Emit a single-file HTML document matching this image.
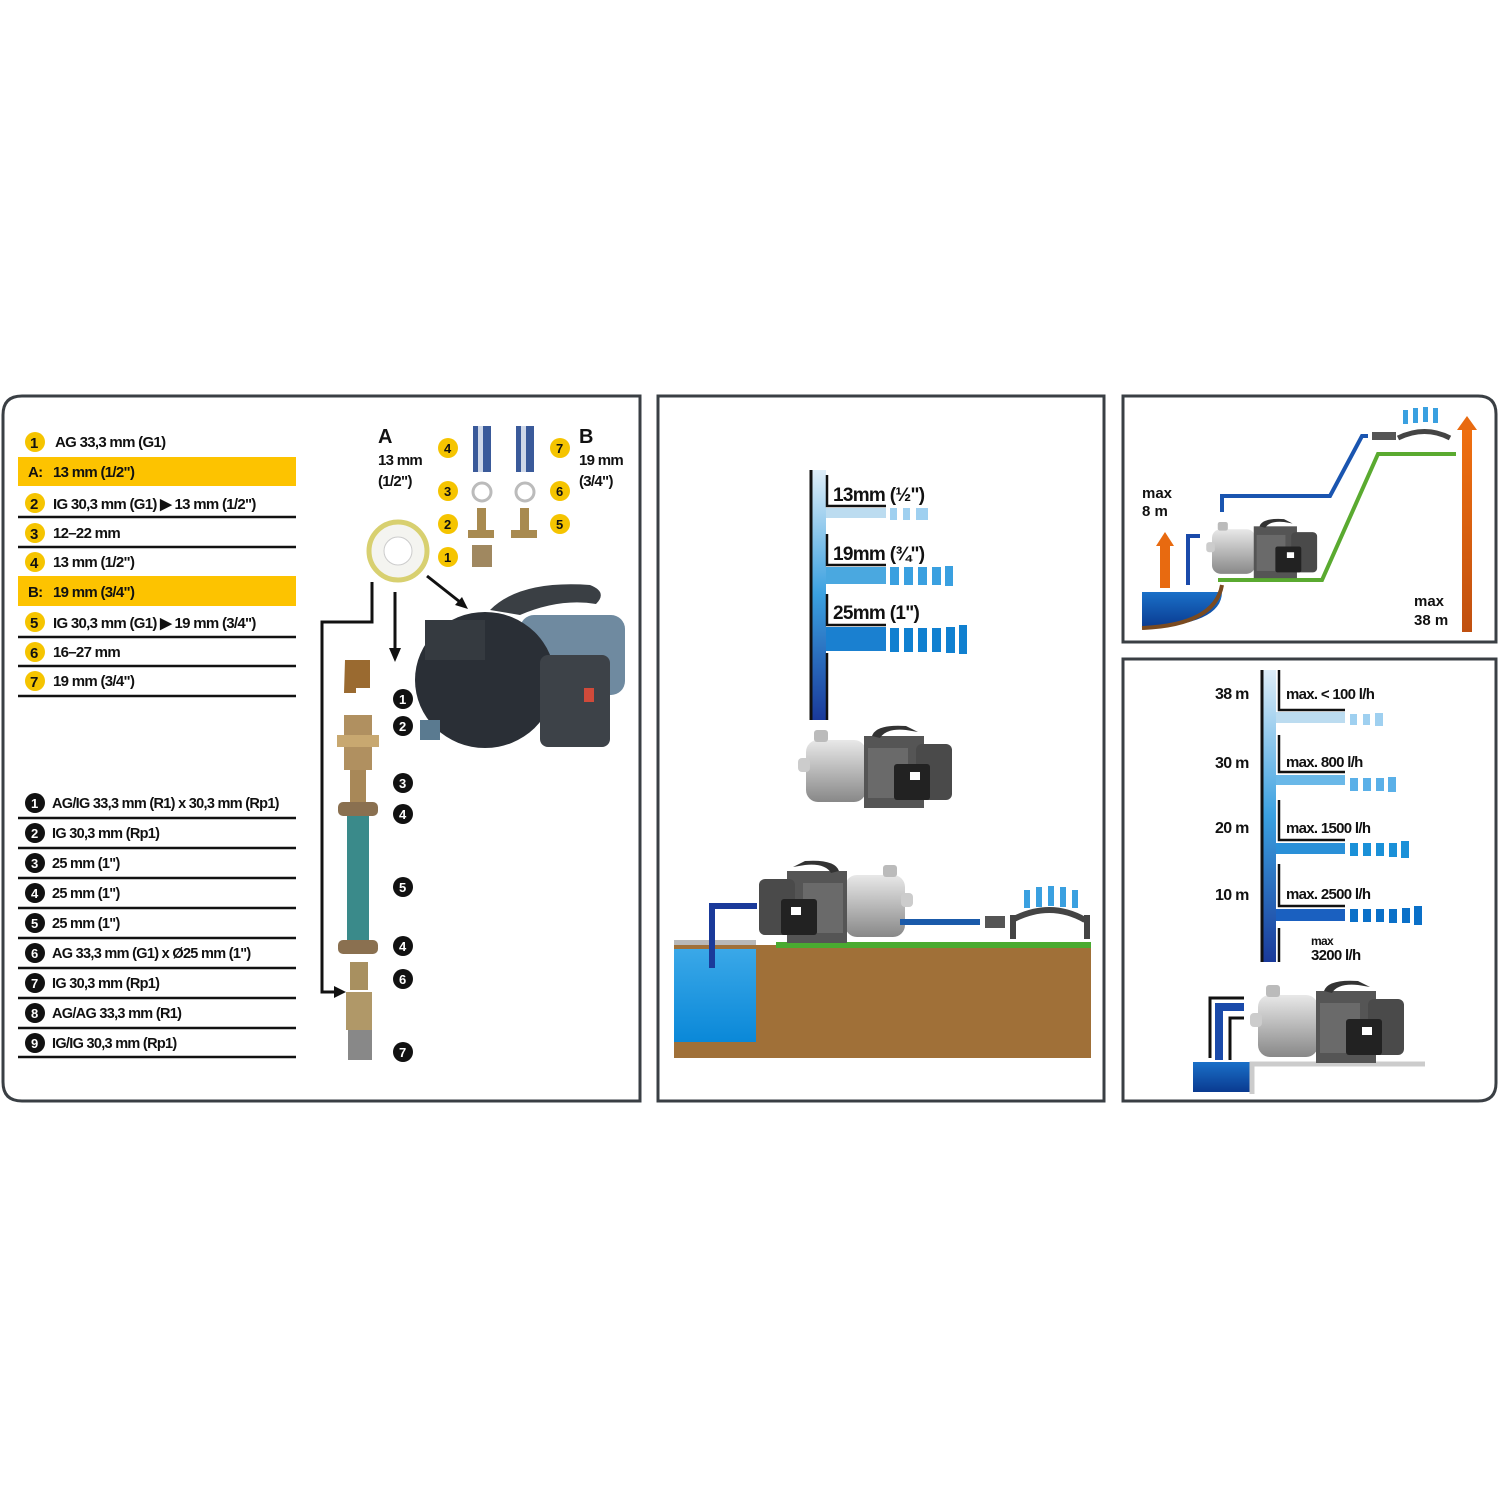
<!DOCTYPE html>
<html><head><meta charset="utf-8"><style>
html,body{margin:0;padding:0;background:#fff}
svg{display:block}
text{font-family:"Liberation Sans",sans-serif;font-weight:bold;}
.cd text{letter-spacing:-0.7px}
</style></head><body>
<svg width="1500" height="1500" viewBox="0 0 1500 1500" xmlns="http://www.w3.org/2000/svg">
<defs>
<linearGradient id="vb" x1="0" y1="0" x2="0" y2="1"><stop offset="0" stop-color="#dfeef8"/><stop offset="0.5" stop-color="#3aa0e0"/><stop offset="1" stop-color="#1a3a9a"/></linearGradient>
<linearGradient id="water" x1="0" y1="0" x2="0" y2="1"><stop offset="0" stop-color="#3aa8e8"/><stop offset="1" stop-color="#0a88d8"/></linearGradient>
<linearGradient id="pond" x1="0" y1="0" x2="0" y2="1"><stop offset="0" stop-color="#1a70c8"/><stop offset="1" stop-color="#0a3a90"/></linearGradient>
<linearGradient id="body" x1="0" y1="0" x2="0" y2="1"><stop offset="0" stop-color="#e8e8e8"/><stop offset="0.5" stop-color="#b8b8b8"/><stop offset="1" stop-color="#888"/></linearGradient>
<linearGradient id="org" x1="0" y1="0" x2="0" y2="1"><stop offset="0" stop-color="#f07010"/><stop offset="1" stop-color="#c05010"/></linearGradient>
<g id="pump">
<rect x="0" y="10" width="60" height="62" rx="12" fill="url(#body)"/>
<rect x="-8" y="28" width="12" height="14" rx="4" fill="#ccc"/>
<rect x="8" y="0" width="14" height="12" rx="3" fill="#bbb"/>
<rect x="58" y="6" width="60" height="72" fill="#555"/>
<rect x="62" y="18" width="40" height="50" fill="#6a6a6a"/>
<rect x="110" y="14" width="36" height="56" rx="6" fill="#4a4a4a"/>
<rect x="88" y="34" width="36" height="36" rx="3" fill="#222"/>
<rect x="104" y="42" width="10" height="8" fill="#fff"/>
<path d="M66 6 Q70 -6 100 -4 L112 2 L100 0 Q80 -2 74 8 Z" fill="#333"/>
</g>
<g id="ycirc"><circle r="10" fill="#f5c400"/></g>
</defs>

<!-- Panels -->
<path d="M22 396 H640 V1101 H22 Q3 1101 3 1082 V415 Q3 396 22 396 Z" fill="none" stroke="#3a3f44" stroke-width="3"/>
<rect x="658" y="396" width="446" height="705" fill="none" stroke="#3a3f44" stroke-width="3"/>
<path d="M1123 396 H1478 Q1496 396 1496 414 V642 H1123 Z" fill="none" stroke="#3a3f44" stroke-width="3"/>
<path d="M1123 659 H1496 V1083 Q1496 1101 1478 1101 H1123 Z" fill="none" stroke="#3a3f44" stroke-width="3"/>

<!-- Left table top -->
<rect x="18" y="457" width="278" height="29" fill="#fdc300"/>
<rect x="18" y="576" width="278" height="30" fill="#fdc300"/>
<g stroke="#111" stroke-width="2.5">
<line x1="18" y1="517" x2="296" y2="517"/><line x1="18" y1="547" x2="296" y2="547"/>
<line x1="18" y1="637" x2="296" y2="637"/><line x1="18" y1="666" x2="296" y2="666"/><line x1="18" y1="696" x2="296" y2="696"/>
</g>
<g font-size="15" fill="#111" class="cd">
<use href="#ycirc" x="35" y="442"/><text x="30" y="448">1</text><text x="55" y="447">AG 33,3 mm (G1)</text>
<text x="28" y="477">A:</text><text x="53" y="477">13 mm (1/2")</text>
<use href="#ycirc" x="35" y="503"/><text x="30" y="509">2</text><text x="53" y="509">IG 30,3 mm (G1) ▶ 13 mm (1/2")</text>
<use href="#ycirc" x="35" y="533"/><text x="30" y="539">3</text><text x="53" y="538">12–22 mm</text>
<use href="#ycirc" x="35" y="562"/><text x="30" y="568">4</text><text x="53" y="567">13 mm (1/2")</text>
<text x="28" y="597">B:</text><text x="53" y="597">19 mm (3/4")</text>
<use href="#ycirc" x="35" y="622"/><text x="30" y="628">5</text><text x="53" y="628">IG 30,3 mm (G1) ▶ 19 mm (3/4")</text>
<use href="#ycirc" x="35" y="652"/><text x="30" y="658">6</text><text x="53" y="657">16–27 mm</text>
<use href="#ycirc" x="35" y="681"/><text x="30" y="687">7</text><text x="53" y="686">19 mm (3/4")</text>
</g>
<!-- Left table bottom -->
<g stroke="#111" stroke-width="2.5">
<line x1="18" y1="818" x2="296" y2="818"/><line x1="18" y1="848" x2="296" y2="848"/><line x1="18" y1="878" x2="296" y2="878"/>
<line x1="18" y1="908" x2="296" y2="908"/><line x1="18" y1="938" x2="296" y2="938"/><line x1="18" y1="968" x2="296" y2="968"/>
<line x1="18" y1="998" x2="296" y2="998"/><line x1="18" y1="1028" x2="296" y2="1028"/><line x1="18" y1="1057" x2="296" y2="1057"/>
</g>
<g font-size="14.5" fill="#111" class="cd">
<g fill="#111"><circle cx="35" cy="803" r="10"/><circle cx="35" cy="833" r="10"/><circle cx="35" cy="863" r="10"/><circle cx="35" cy="893" r="10"/><circle cx="35" cy="923" r="10"/><circle cx="35" cy="953" r="10"/><circle cx="35" cy="983" r="10"/><circle cx="35" cy="1013" r="10"/><circle cx="35" cy="1043" r="10"/></g>
<g fill="#fff" font-size="13"><text x="31" y="808">1</text><text x="31" y="838">2</text><text x="31" y="868">3</text><text x="31" y="898">4</text><text x="31" y="928">5</text><text x="31" y="958">6</text><text x="31" y="988">7</text><text x="31" y="1018">8</text><text x="31" y="1048">9</text></g>
<text x="52" y="808">AG/IG 33,3 mm (R1) x 30,3 mm (Rp1)</text>
<text x="52" y="838">IG 30,3 mm (Rp1)</text>
<text x="52" y="868">25 mm (1")</text>
<text x="52" y="898">25 mm (1")</text>
<text x="52" y="928">25 mm (1")</text>
<text x="52" y="958">AG 33,3 mm (G1) x Ø25 mm (1")</text>
<text x="52" y="988">IG 30,3 mm (Rp1)</text>
<text x="52" y="1018">AG/AG 33,3 mm (R1)</text>
<text x="52" y="1048">IG/IG 30,3 mm (Rp1)</text>
</g>

<!-- A/B labels -->
<g fill="#111" class="cd">
<text x="378" y="443" font-size="20">A</text><text x="378" y="465" font-size="15">13 mm</text><text x="378" y="486" font-size="15">(1/2")</text>
<text x="579" y="443" font-size="20">B</text><text x="579" y="465" font-size="15">19 mm</text><text x="579" y="486" font-size="15">(3/4")</text>
</g>
<g font-size="13" fill="#111">
<use href="#ycirc" x="448" y="448"/><text x="444" y="453">4</text>
<use href="#ycirc" x="448" y="491"/><text x="444" y="496">3</text>
<use href="#ycirc" x="448" y="524"/><text x="444" y="529">2</text>
<use href="#ycirc" x="448" y="557"/><text x="444" y="562">1</text>
<use href="#ycirc" x="560" y="448"/><text x="556" y="453">7</text>
<use href="#ycirc" x="560" y="491"/><text x="556" y="496">6</text>
<use href="#ycirc" x="560" y="524"/><text x="556" y="529">5</text>
</g>
<rect x="473" y="426" width="18" height="46" fill="#3a5a9a"/><rect x="478" y="426" width="5" height="46" fill="#cfd8e8"/>
<rect x="516" y="426" width="18" height="46" fill="#3a5a9a"/><rect x="521" y="426" width="5" height="46" fill="#cfd8e8"/>
<circle cx="482" cy="492" r="9" fill="none" stroke="#bbb" stroke-width="3"/><circle cx="525" cy="492" r="9" fill="none" stroke="#bbb" stroke-width="3"/>
<path d="M477 508 h9 v22 h8 v8 h-26 v-8 h9z" fill="#a88a50"/><path d="M520 508 h9 v22 h8 v8 h-26 v-8 h9z" fill="#a88a50"/>
<rect x="472" y="545" width="20" height="22" fill="#a08860"/>
<circle cx="398" cy="551" r="29" fill="#f4f4f0" stroke="#d8d070" stroke-width="5"/><circle cx="398" cy="551" r="14" fill="#fff" stroke="#ccc"/>
<!-- arrows & lines -->
<g stroke="#111" stroke-width="3" fill="none">
<path d="M372 582 V622 H322 V992 H340"/>
<line x1="395" y1="592" x2="395" y2="650"/>
<line x1="427" y1="576" x2="460" y2="602"/>
</g>
<path d="M389 648 L395 662 L401 648Z M334 986 L346 992 L334 998Z M455 605 L468 609 L462 597Z" fill="#111"/>
<!-- pump photo -->
<path d="M490 610 Q520 580 590 585 Q608 592 596 604 Q560 598 520 615 Z" fill="#3a3f44"/>
<rect x="520" y="615" width="105" height="80" rx="14" fill="#6f8aa0"/>
<ellipse cx="485" cy="680" rx="70" ry="68" fill="#2a2f36"/>
<rect x="425" y="620" width="60" height="40" fill="#353a40"/>
<rect x="540" y="655" width="70" height="92" rx="8" fill="#3d4248"/>
<rect x="584" y="688" width="10" height="14" fill="#d04a3a"/>
<rect x="420" y="720" width="20" height="20" fill="#5a7a90"/>
<!-- fittings column -->
<path d="M345 660 h25 v28 h-14 v5 h-12z" fill="#9a6a30"/>
<rect x="344" y="715" width="28" height="55" fill="#b09060"/>
<rect x="337" y="735" width="42" height="12" fill="#c8a870"/>
<rect x="350" y="770" width="16" height="40" fill="#a88858"/>
<rect x="338" y="802" width="40" height="14" rx="5" fill="#8a7050"/>
<rect x="347" y="816" width="22" height="124" fill="#3a8a8a"/>
<rect x="338" y="940" width="40" height="14" rx="5" fill="#8a7050"/>
<rect x="350" y="962" width="18" height="28" fill="#a89060"/>
<rect x="346" y="992" width="26" height="38" fill="#b09868"/>
<rect x="348" y="1030" width="24" height="30" fill="#888"/>
<g fill="#111"><circle cx="403" cy="699" r="10"/><circle cx="403" cy="726" r="10"/><circle cx="403" cy="783" r="10"/><circle cx="403" cy="814" r="10"/><circle cx="403" cy="887" r="10"/><circle cx="403" cy="946" r="10"/><circle cx="403" cy="979" r="10"/><circle cx="403" cy="1052" r="10"/></g>
<g fill="#fff" font-size="13"><text x="399" y="704">1</text><text x="399" y="731">2</text><text x="399" y="788">3</text><text x="399" y="819">4</text><text x="399" y="892">5</text><text x="399" y="951">4</text><text x="399" y="984">6</text><text x="399" y="1057">7</text></g>

<!-- Middle panel -->
<rect x="812" y="470" width="14" height="250" fill="url(#vb)"/>
<line x1="811" y1="470" x2="811" y2="720" stroke="#111" stroke-width="3"/>
<rect x="826" y="508" width="60" height="10" fill="#bcdcf0"/>
<rect x="826" y="567" width="60" height="17" fill="#4aa8e0"/>
<rect x="826" y="627" width="60" height="24" fill="#1a80d0"/>
<g stroke="#111" stroke-width="2.5" fill="none">
<path d="M827 475 V506 H886"/><path d="M827 534 V565 H886"/><path d="M827 594 V625 H886"/><path d="M827 653 V720"/>
</g>
<g fill="#9fd0f0"><rect x="890" y="508" width="7" height="12"/><rect x="903" y="508" width="7" height="12"/><rect x="916" y="508" width="7" height="12"/><rect x="920" y="508" width="8" height="12"/></g>
<g fill="#3aa0e0"><rect x="890" y="567" width="9" height="18"/><rect x="904" y="567" width="9" height="18"/><rect x="918" y="567" width="9" height="18"/><rect x="932" y="567" width="9" height="18"/><rect x="945" y="566" width="8" height="20"/></g>
<g fill="#1080d0"><rect x="890" y="628" width="9" height="24"/><rect x="904" y="628" width="9" height="24"/><rect x="918" y="628" width="9" height="24"/><rect x="932" y="628" width="9" height="24"/><rect x="946" y="627" width="9" height="26"/><rect x="959" y="625" width="8" height="29"/></g>
<g fill="#111" font-size="19" class="cd"><text x="833" y="501">13mm (½")</text><text x="833" y="560">19mm (¾")</text><text x="833" y="619">25mm (1")</text></g>
<use href="#pump" x="806" y="730"/>
<!-- middle bottom scene -->
<rect x="674" y="945" width="417" height="113" fill="#a07038"/>
<rect x="674" y="940" width="82" height="5" fill="#b8b8b8"/>
<rect x="674" y="949" width="82" height="93" fill="url(#water)"/>
<rect x="776" y="942" width="315" height="6" fill="#4aaa30"/>
<path d="M712 968 V906 H757" stroke="#1a3a9a" stroke-width="6" fill="none"/>
<g transform="translate(905,865) scale(-1,1)"><use href="#pump" x="0" y="0"/></g>
<line x1="900" y1="922" x2="980" y2="922" stroke="#1a5aaa" stroke-width="6"/>
<rect x="985" y="916" width="20" height="12" fill="#555"/>
<path d="M1012 920 Q1050 900 1085 920" stroke="#444" stroke-width="6" fill="none"/>
<rect x="1010" y="915" width="6" height="24" fill="#444"/><rect x="1084" y="915" width="6" height="24" fill="#444"/>
<g fill="#3aa0e0"><rect x="1024" y="890" width="6" height="18"/><rect x="1036" y="887" width="6" height="20"/><rect x="1048" y="886" width="6" height="20"/><rect x="1060" y="887" width="6" height="20"/><rect x="1072" y="890" width="6" height="18"/></g>

<!-- Right top -->
<path d="M1142 592 H1222 Q1222 625 1142 628 Z" fill="url(#pond)"/>
<path d="M1142 628 Q1215 625 1222 585" stroke="#7a4a20" stroke-width="4" fill="none"/>
<rect x="1160" y="545" width="10" height="43" fill="#e86a10"/>
<path d="M1156 546 l9 -14 l9 14z" fill="#e86a10"/>
<path d="M1188 585 V536 H1200" stroke="#1a4aaa" stroke-width="4" fill="none"/>
<path d="M1222 512 V496 H1330 L1362 436 H1368" stroke="#1a55b0" stroke-width="4" fill="none"/>
<path d="M1218 580 H1322 L1378 454 H1456" stroke="#5aaa30" stroke-width="4" fill="none"/>
<use href="#pump" transform="translate(1212,522) scale(0.72)"/>
<rect x="1462" y="428" width="10" height="204" fill="url(#org)"/>
<path d="M1457 430 l10 -14 l10 14z" fill="#e86a10"/>
<rect x="1372" y="432" width="24" height="8" fill="#555"/>
<path d="M1398 438 Q1425 425 1450 438" stroke="#444" stroke-width="5" fill="none"/>
<g fill="#3aa0e0"><rect x="1403" y="410" width="5" height="14"/><rect x="1413" y="408" width="5" height="15"/><rect x="1423" y="407" width="5" height="15"/><rect x="1433" y="408" width="5" height="15"/></g>
<g fill="#111" font-size="15"><text x="1142" y="498">max</text><text x="1142" y="516">8 m</text><text x="1414" y="606">max</text><text x="1414" y="625">38 m</text></g>

<!-- Right bottom -->
<rect x="1263" y="670" width="13" height="292" fill="url(#vb)"/>
<line x1="1262" y1="670" x2="1262" y2="962" stroke="#111" stroke-width="3"/>
<rect x="1276" y="712" width="69" height="11" fill="#bcdcf0"/>
<rect x="1276" y="775" width="69" height="10" fill="#6ab8e8"/>
<rect x="1276" y="843" width="69" height="11" fill="#2a90d8"/>
<rect x="1276" y="909" width="69" height="12" fill="#1a60c0"/>
<g stroke="#111" stroke-width="2.5" fill="none">
<path d="M1279 670 V710 H1345"/><path d="M1279 735 V772 H1345"/><path d="M1279 800 V840 H1345"/><path d="M1279 864 V906 H1345"/><path d="M1279 928 V962"/>
</g>
<g fill="#9fd0f0"><rect x="1350" y="714" width="7" height="11"/><rect x="1363" y="714" width="7" height="11"/><rect x="1375" y="713" width="8" height="13"/></g>
<g fill="#5ab0e8"><rect x="1350" y="778" width="8" height="13"/><rect x="1363" y="778" width="8" height="13"/><rect x="1376" y="778" width="8" height="13"/><rect x="1388" y="777" width="8" height="15"/></g>
<g fill="#1a90d8"><rect x="1350" y="843" width="8" height="13"/><rect x="1363" y="843" width="8" height="13"/><rect x="1376" y="843" width="8" height="13"/><rect x="1389" y="843" width="8" height="14"/><rect x="1401" y="841" width="8" height="17"/></g>
<g fill="#0a70c8"><rect x="1350" y="909" width="8" height="13"/><rect x="1363" y="909" width="8" height="13"/><rect x="1376" y="909" width="8" height="13"/><rect x="1389" y="909" width="8" height="14"/><rect x="1402" y="908" width="8" height="15"/><rect x="1414" y="906" width="8" height="19"/></g>
<g fill="#111" font-size="16" class="cd"><text x="1215" y="699">38 m</text><text x="1215" y="768">30 m</text><text x="1215" y="833">20 m</text><text x="1215" y="900">10 m</text></g>
<g fill="#111" font-size="15" class="cd"><text x="1286" y="699">max. &lt; 100 l/h</text><text x="1286" y="767">max. 800 l/h</text><text x="1286" y="833">max. 1500 l/h</text><text x="1286" y="899">max. 2500 l/h</text><text x="1311" y="945" font-size="12">max</text><text x="1311" y="960">3200 l/h</text></g>
<rect x="1193" y="1062" width="57" height="30" fill="url(#pond)"/>
<path d="M1252 1094 V1064 H1425" stroke="#ccc" stroke-width="5" fill="none"/>
<path d="M1210 1058 V998 H1244" stroke="#111" stroke-width="3" fill="none"/>
<path d="M1219 1060 V1007 H1244" stroke="#1a4aaa" stroke-width="8" fill="none"/>
<path d="M1230 1060 V1018 H1244" stroke="#111" stroke-width="3" fill="none"/>
<use href="#pump" transform="translate(1258,985)"/>
</svg>
</body></html>
